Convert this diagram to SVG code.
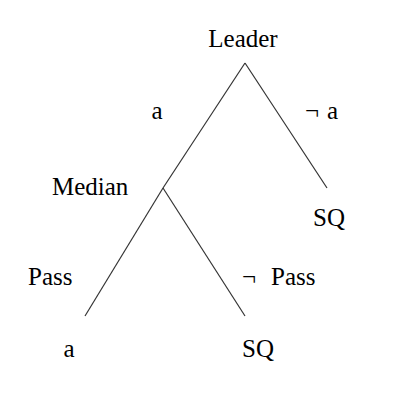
<svg xmlns="http://www.w3.org/2000/svg" width="401" height="418" viewBox="0 0 401 418">
<style>
text{font-family:"Liberation Serif","Times New Roman",serif;font-size:25px;fill:#000}
line{stroke:#333;stroke-width:1.2}
</style>
<rect width="401" height="418" fill="#fff"/>
<g id="connectors">
<line x1="245" y1="63" x2="163" y2="188"/>
<line x1="245" y1="63" x2="327" y2="188"/>
<line x1="163" y1="188" x2="85" y2="316"/>
<line x1="163" y1="188" x2="245" y2="316"/>
</g>
<g id="leader"><text x="243" y="47" text-anchor="middle">Leader</text></g>
<g id="label-a"><text x="157" y="119" text-anchor="middle">a</text></g>
<g id="label-not-a"><text x="305" y="119">¬<tspan x="327">a</tspan></text></g>
<g id="median"><text x="52" y="195">Median</text></g>
<g id="sq-top"><text x="329" y="226" text-anchor="middle">SQ</text></g>
<g id="label-pass"><text x="28" y="285">Pass</text></g>
<g id="label-not-pass"><text x="242" y="285">¬<tspan x="271">Pass</tspan></text></g>
<g id="leaf-a"><text x="69" y="357" text-anchor="middle">a</text></g>
<g id="sq-bottom"><text x="258" y="357" text-anchor="middle">SQ</text></g>
</svg>
